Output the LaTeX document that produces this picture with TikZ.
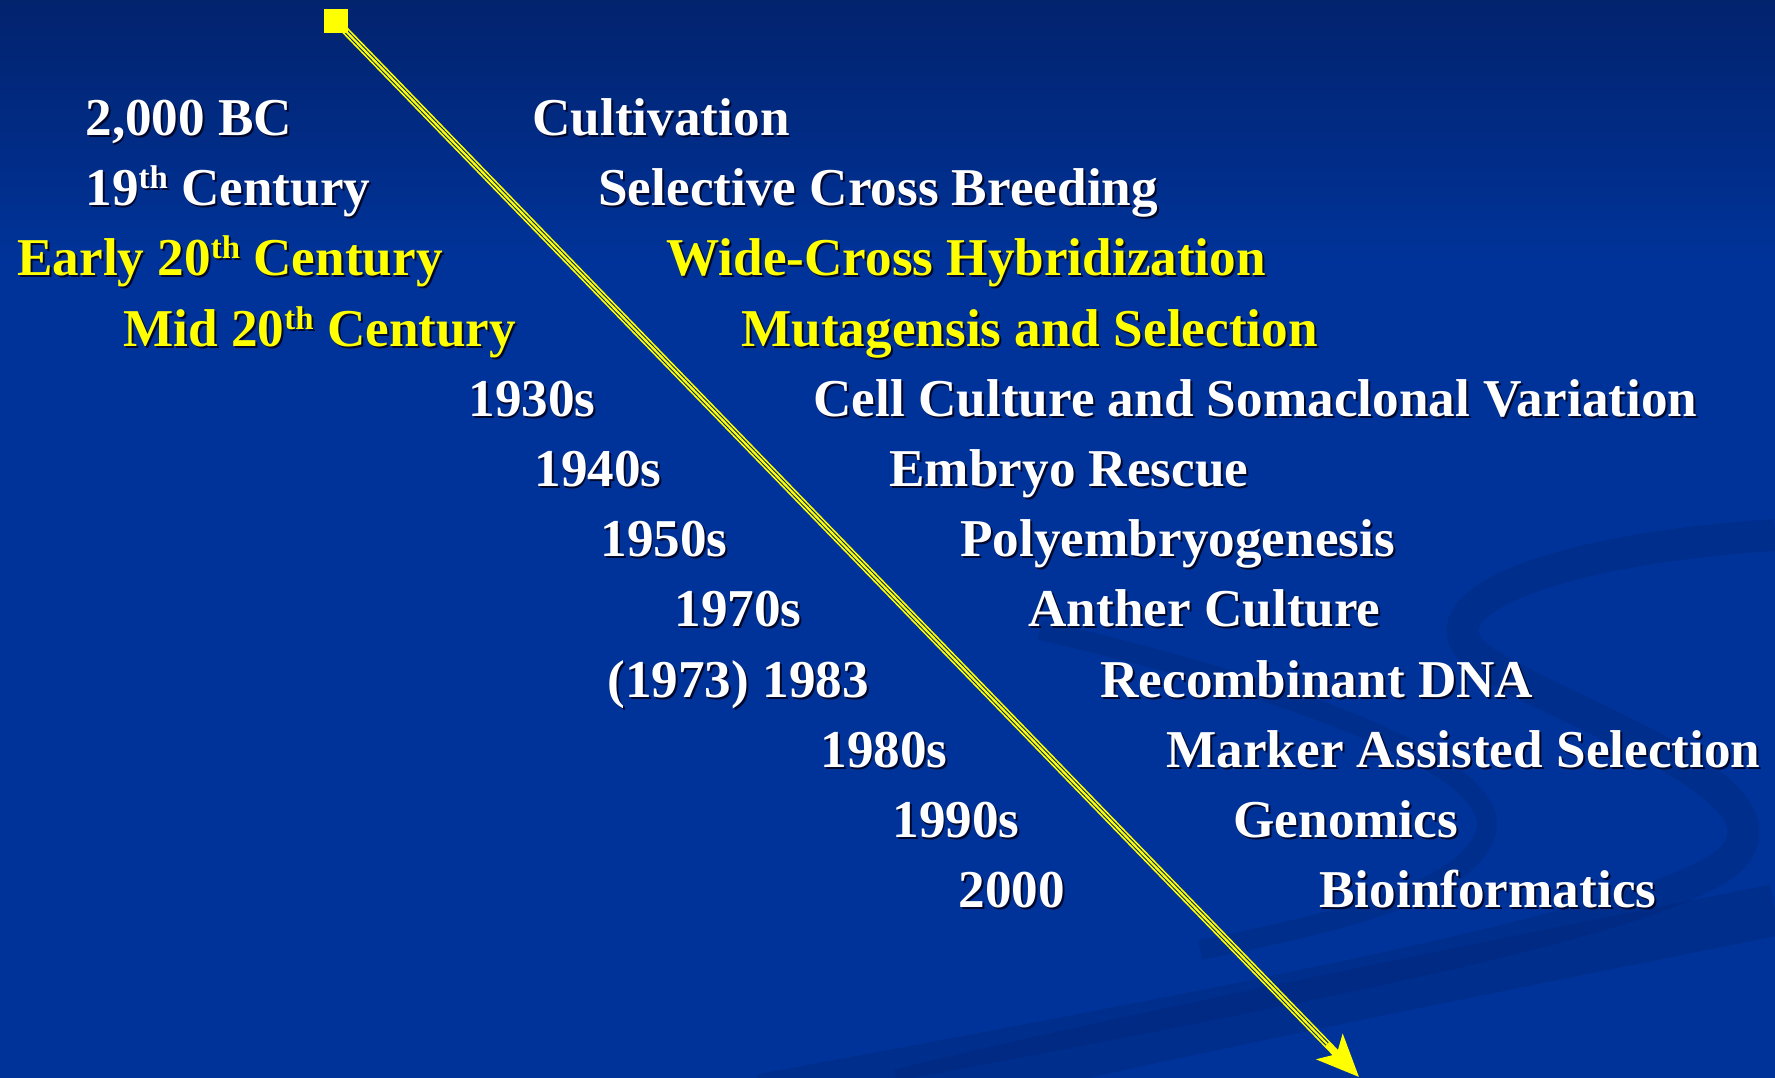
\documentclass[tikz,border=0pt]{standalone}
\usepackage{fontspec}
\setmainfont{Liberation Serif}
\usetikzlibrary{arrows.meta}
\definecolor{bgtop}{RGB}{2,34,108}
\definecolor{bgcol}{RGB}{0,51,153}
\definecolor{swirlcol}{RGB}{0,34,112}
\definecolor{markcol}{RGB}{255,255,0}
\definecolor{shadecol}{RGB}{0,8,45}

% text with a small dark drop shadow
\newcommand{\shadowed}[1]{\makebox[0pt][l]{\hspace{1pt}\raisebox{-1pt}{\color{shadecol}#1}}#1}
% raised ordinal suffix
\newcommand{\ord}[1]{\raisebox{8.5pt}{\fontsize{16.5}{16.5}\selectfont #1}}

\tikzset{
  date/.style    = {anchor=base west, inner sep=0pt, text=#1,
                    font=\fontsize{26.7}{30}\selectfont\bfseries},
  date/.default  = white,
  event/.style   = {anchor=base west, inner sep=0pt, text=#1,
                    font=\fontsize{26.7}{30}\selectfont\bfseries},
  event/.default = white,
  swirl/.style   = {draw=swirlcol, line width=#1, opacity=0.28},
  rail/.style    = {draw=markcol, line width=3.8pt,
                    -{Stealth[length=21pt,width=18pt,inset=5pt]}},
  rail gap/.style = {draw=bgcol!80!black, line width=0.5pt,
                    double=markcol, double distance=1.1pt},
}

\begin{document}
\begin{tikzpicture}[x=0.5bp, y=-0.5bp]
  \useasboundingbox (0,0) rectangle (1775,1077);

  % backdrop
  \shade[top color=bgtop, bottom color=bgcol] (-10,-10) rectangle (1785,260);
  \fill[bgcol] (-10,259) rectangle (1785,1090);
  \draw[swirl=16pt] (1775,535) .. controls (1540,550) and (1400,610) .. (1490,665)
        .. controls (1580,720) and (1800,790) .. (1730,860)
        .. controls (1660,920) and (1300,990) .. (760,1090);
  \draw[swirl=10pt] (1040,630) .. controls (1300,690) and (1510,770) .. (1485,835)
        .. controls (1465,890) and (1350,920) .. (1200,950);
  \draw[swirl=26pt] (1775,910) .. controls (1500,965) and (1100,1045) .. (900,1095);

  % time axis
  \coordinate (origin) at (336,21);
  \coordinate (now) at (1359,1077);
  \draw[rail] (origin) -- (now);
  \draw[rail gap, shorten >=23pt] (origin) -- (now);
  \node[fill=markcol, minimum size=12.5pt, inner sep=0pt] (start) at (origin) {};

  % dates
  \node[date]         (bc)    at (85,135)  {\shadowed{2,000 BC}};
  \node[date]         (c19)   at (85,205)  {\shadowed{19\ord{th} Century}};
  \node[date=markcol] (early) at (17,275)  {\shadowed{Early 20\ord{th} Century}};
  \node[date=markcol] (mid)   at (123,346) {\shadowed{Mid 20\ord{th} Century}};
  \node[date]         (y30)   at (468,416) {\shadowed{1930s}};
  \node[date]         (y40)   at (534,486) {\shadowed{1940s}};
  \node[date]         (y50)   at (600,556) {\shadowed{1950s}};
  \node[date]         (y70)   at (674,626) {\shadowed{1970s}};
  \node[date]         (y83)   at (607,697) {\shadowed{(1973) 1983}};
  \node[date]         (y80)   at (820,767) {\shadowed{1980s}};
  \node[date]         (y90)   at (892,837) {\shadowed{1990s}};
  \node[date]         (y00)   at (958,907) {\shadowed{2000}};

  % methods
  \node[event]         (cult)   at (532,135)  {\shadowed{Cultivation}};
  \node[event]         (cross)  at (598,205)  {\shadowed{Selective Cross Breeding}};
  \node[event=markcol] (hybrid) at (666,275)  {\shadowed{Wide-Cross Hybridization}};
  \node[event=markcol] (mutag)  at (741,346)  {\shadowed{Mutagensis and Selection}};
  \node[event]         (somac)  at (813,416)  {\shadowed{Cell Culture and Somaclonal Variation}};
  \node[event]         (rescue) at (889,486)  {\shadowed{Embryo Rescue}};
  \node[event]         (poly)   at (960,556)  {\shadowed{Polyembryogenesis}};
  \node[event]         (anther) at (1028,626) {\shadowed{Anther Culture}};
  \node[event]         (rdna)   at (1100,697) {\shadowed{Recombinant DNA}};
  \node[event]         (mas)    at (1166,767) {\shadowed{Marker Assisted Selection}};
  \node[event]         (genom)  at (1233,837) {\shadowed{Genomics}};
  \node[event]         (bioinf) at (1319,907) {\shadowed{Bioinformatics}};
\end{tikzpicture}
\end{document}
